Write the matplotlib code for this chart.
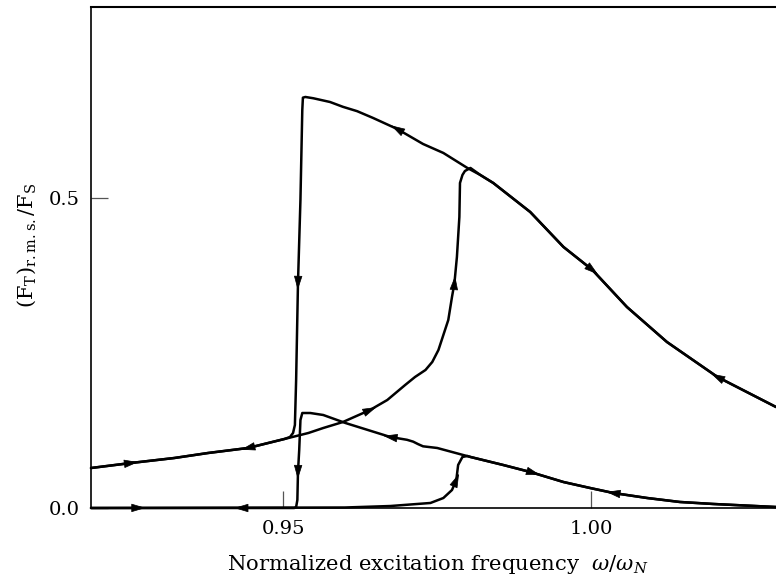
import numpy as np
import matplotlib
matplotlib.use("Agg")
import matplotlib.pyplot as plt

plt.rcParams['font.family'] = ['DejaVu Serif']
plt.rcParams['mathtext.fontset'] = 'dejavuserif'

# ---------------- data ----------------
# upper branch, decreasing-frequency sweep (right -> left, jump down, continue left)
a_down_x = [1.0300, 1.0205, 1.0123, 1.0058, 1.0002, 0.9955, 0.9901, 0.9841, 0.9820, 0.9799,
            0.9760, 0.9727, 0.9685, 0.9646, 0.9620, 0.9597, 0.9576, 0.9549, 0.9536, 0.9532,
            0.9531, 0.9528, 0.9524, 0.9521, 0.9519, 0.9516, 0.9511, 0.9502, 0.9443, 0.9378,
            0.9323, 0.9253, 0.9188]
a_down_y = [0.1629, 0.2113, 0.2677, 0.3242, 0.3839, 0.4210, 0.4774, 0.5242, 0.5371, 0.5484,
            0.5726, 0.5871, 0.6113, 0.6290, 0.6400, 0.6470, 0.6548, 0.6608, 0.6629, 0.6618,
            0.6419, 0.4968, 0.3629, 0.2065, 0.1339, 0.1210, 0.1145, 0.1113, 0.0968, 0.0887,
            0.0806, 0.0726, 0.0645]

# upper branch, increasing-frequency sweep (left -> right, jump up, continue right)
b_up_x = [0.9188, 0.9253, 0.9323, 0.9378, 0.9443, 0.9502, 0.9541, 0.9565, 0.9597, 0.9641,
          0.9669, 0.9698, 0.9714, 0.9731, 0.9742, 0.9752, 0.9768, 0.9774, 0.9778, 0.9782,
          0.9786, 0.9787, 0.9791, 0.9795, 0.9804, 0.9820, 0.9841, 0.9901, 0.9955, 1.0002,
          1.0058, 1.0123, 1.0205, 1.0300]
b_up_y = [0.0645, 0.0726, 0.0806, 0.0887, 0.0968, 0.1113, 0.1210, 0.1290, 0.1387, 0.1581,
          0.1742, 0.1984, 0.2113, 0.2226, 0.2355, 0.2548, 0.3032, 0.3403, 0.3629, 0.4048,
          0.4694, 0.5242, 0.5371, 0.5435, 0.5484, 0.5371, 0.5242, 0.4774, 0.4210, 0.3839,
          0.3242, 0.2677, 0.2113, 0.1629]

# lower branch, decreasing-frequency sweep
c_down_x = [1.0300, 1.0198, 1.0144, 1.0091, 1.0036, 0.9998, 0.9955, 0.9901, 0.9857, 0.9804,
            0.9750, 0.9727, 0.9719, 0.9711, 0.9701, 0.9674, 0.9601, 0.9565, 0.9544, 0.9531,
            0.9528, 0.9526, 0.9524, 0.9523, 0.9521, 0.9518, 0.9188]
c_down_y = [0.0016, 0.0065, 0.0097, 0.0161, 0.0242, 0.0323, 0.0419, 0.0581, 0.0694, 0.0823,
            0.0968, 0.0995, 0.1030, 0.1070, 0.1100, 0.1145, 0.1371, 0.1500, 0.1532, 0.1532,
            0.1419, 0.0935, 0.0581, 0.0129, 0.0016, 0.0000, 0.0000]

# lower branch, increasing-frequency sweep
d_up_x = [0.9188, 0.9600, 0.9674, 0.9739, 0.9760, 0.9774, 0.9781, 0.9784, 0.9791, 0.9799,
          0.9804, 0.9857, 0.9901, 0.9955, 0.9998, 1.0036, 1.0091, 1.0144, 1.0198, 1.0300]
d_up_y = [0.0000, 0.0008, 0.0032, 0.0081, 0.0161, 0.0290, 0.0452, 0.0694, 0.0823, 0.0839,
          0.0823, 0.0694, 0.0581, 0.0419, 0.0323, 0.0242, 0.0161, 0.0097, 0.0065, 0.0016]

# arrow locations along each sweep: (mode, value) -> 'x' on flat parts, 'y' on jumps
a_arrows = [('x', 1.0205), ('x', 0.9685), ('y', 0.363), ('x', 0.9443)]
b_arrows = [('x', 0.9253), ('x', 0.9641), ('y', 0.363), ('x', 1.0002)]
c_arrows = [('x', 1.0036), ('x', 0.9674), ('y', 0.058), ('x', 0.9432)]
d_arrows = [('x', 0.9265), ('y', 0.045), ('x', 0.9906)]

x_ticks = [0.95, 1.00]
x_tick_labels = ['0.95', '1.00']
y_ticks = [0.0, 0.5]
y_tick_labels = ['0.0', '0.5']
x_limits = (0.9188, 1.0300)
y_limits = (0.0, 0.808)

# ---------------- figure ----------------
W, H = 776, 584
fig = plt.figure(figsize=(W / 100, H / 100), dpi=100)
ax = fig.add_axes([91 / W, 1 - 508 / H, 1 - 91 / W, (508 - 7) / H])
ax.set_xlim(*x_limits)
ax.set_ylim(*y_limits)

ax.spines['right'].set_visible(False)
ax.spines['top'].set_linewidth(1.5)
ax.spines['left'].set_linewidth(1.2)
ax.spines['bottom'].set_linewidth(1.2)

ax.set_xticks(x_ticks)
ax.set_xticklabels(x_tick_labels)
ax.set_yticks(y_ticks)
ax.set_yticklabels(y_tick_labels)
ax.tick_params(direction='in', length=12, width=0.9, color='#555555',
               labelsize=14, labelcolor='black')
ax.tick_params(axis='x', pad=9)
ax.tick_params(axis='y', pad=8)

lw = 1.8
paths = [(a_down_x, a_down_y, a_arrows), (b_up_x, b_up_y, b_arrows),
         (c_down_x, c_down_y, c_arrows), (d_up_x, d_up_y, d_arrows)]
for xs, ys, _ in paths:
    ax.plot(xs, ys, color='black', lw=lw, solid_joinstyle='round',
            solid_capstyle='round', clip_on=False)


def place_arrow(xs, ys, mode, value):
    pts = ax.transData.transform(np.column_stack([xs, ys]))
    for i in range(len(xs) - 1):
        dx = pts[i + 1, 0] - pts[i, 0]
        dy = pts[i + 1, 1] - pts[i, 1]
        steep = abs(dy) > 2 * abs(dx)
        if mode == 'x':
            a, b = xs[i], xs[i + 1]
            if steep or not (min(a, b) <= value <= max(a, b)) or a == b:
                continue
        else:
            a, b = ys[i], ys[i + 1]
            if (not steep) or not (min(a, b) <= value <= max(a, b)) or a == b:
                continue
        t = (value - a) / (b - a)
        p = pts[i] + t * (pts[i + 1] - pts[i])
        d = np.array([dx, dy]) / np.hypot(dx, dy)
        tip = ax.transData.inverted().transform(p + d * 7)
        tail = ax.transData.inverted().transform(p - d * 7)
        ax.annotate('', xy=tip, xytext=tail,
                    arrowprops=dict(arrowstyle='-|>,head_length=0.9,head_width=0.27',
                                    color='black', lw=0.5, shrinkA=0, shrinkB=0,
                                    mutation_scale=10))
        return


for xs, ys, arrows in paths:
    for mode, value in arrows:
        place_arrow(xs, ys, mode, value)

fig.text(438 / W, 1 - 565 / H, r'Normalized excitation frequency  $\omega/\omega_N$',
         ha='center', va='center', fontsize=15.2)
fig.text(27 / W, 1 - 245 / H, r'$(\mathrm{F_T})_{\mathrm{r.m.s.}}/\mathrm{F_S}$',
         ha='center', va='center', rotation=90, fontsize=15)

fig.savefig('out.png', dpi=100)
